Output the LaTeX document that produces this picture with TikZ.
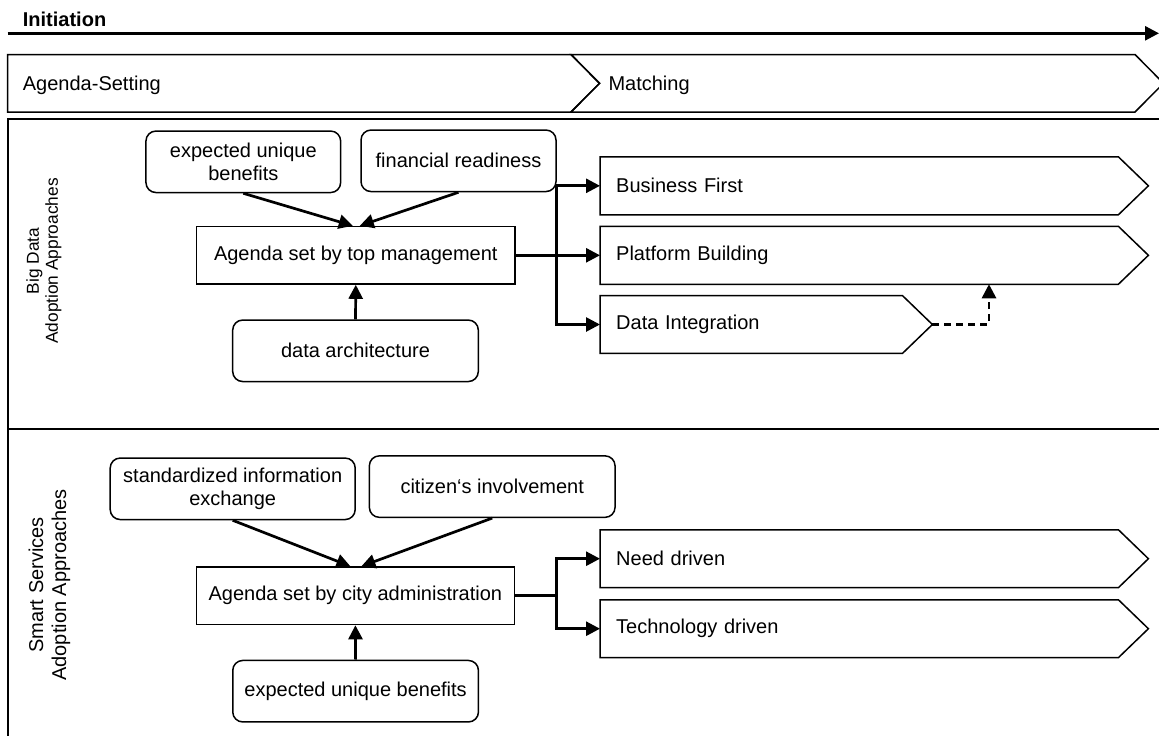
\documentclass[tikz,border=0pt]{standalone}
\usepackage{fontspec}
\setmainfont{Liberation Sans}
\usetikzlibrary{arrows.meta}

\newcommand\dgfont{\fontsize{20}{23}\selectfont}

\begin{document}
\begin{tikzpicture}[x=1pt,y=-1pt,
  font=\dgfont,
  factor/.style={draw, line width=1.5pt, rounded corners=10pt, align=center,
    inner sep=0pt, minimum height=61.5pt},
  agendabox/.style={draw, line width=1.5pt, inner sep=0pt,
    minimum width=318.3pt, minimum height=57.5pt},
  chevbody/.style={inner xsep=16pt, inner ysep=0pt, minimum height=57.5pt, align=left},
  chevline/.style={line width=1.5pt, line join=miter},
  laneline/.style={line width=2pt},
  conn/.style={line width=2.7pt, line join=miter,
    -{Triangle[length=14pt,width=14pt]}},
  optconn/.style={conn, dash pattern=on 7pt off 5pt},
  plain/.style={inner sep=0pt}
]
\useasboundingbox (0,0) rectangle (1159,736);
\clip (0,0) rectangle (1159,736);

% phase axis
\node[plain, anchor=base west, font=\dgfont\bfseries] (init) at (22.7,26.7) {Initiation};
\coordinate (axl) at (7.5,33.3);
\coordinate (axr) at (1159,33.3);
\draw[line width=2.7pt, -{Triangle[length=14pt,width=14pt]}] (axl) -- (axr);

% phases
\draw[chevline] (7.5,54.5) -- (571,54.5) -- (599.5,83.3) -- (571,112) -- (7.5,112) -- cycle;
\draw[chevline] (571,54.5) -- (1135,54.5) -- (1163.5,83.3) -- (1135,112) -- (571,112)
  -- (599.5,83.3) -- cycle;
\node[plain, anchor=base west] (ph1) at (22.7,90) {Agenda-Setting};
\node[plain, anchor=base west] (ph2) at (608.3,90) {Matching};

% swimlanes
\draw[laneline] (7.5,740) -- (7.5,118.5) -- (1165,118.5);
\draw[laneline] (7.5,429.3) -- (1165,429.3);
\node[plain, rotate=90, align=center, font=\fontsize{17.3}{19}\selectfont] (lane1)
  at (44,261) {Big Data\\Adoption Approaches};
\node[plain, rotate=90, align=center] (lane2)
  at (49.5,585) {Smart Services\\Adoption Approaches};

% ---- lane 1: big data
\node[factor, minimum width=194.7pt] (eub) at (243.3,161.8) {expected unique\\benefits};
\node[factor, minimum width=195pt] (fr) at (458.5,160.8) {financial readiness};
\node[agendabox] (ag1) at (355.8,255.3) {Agenda set by top management};
\node[factor, minimum width=245.6pt] (da) at (355.5,350.8) {data architecture};

\draw[conn] (eub.south) -- ([xshift=-3pt]ag1.north);
\draw[conn] (fr.south) -- ([xshift=4pt]ag1.north);
\draw[conn] (da.north) -- (ag1.south);

\node[chevbody, anchor=west, minimum width=518pt, text width=486pt] (bf) at (600,185.8) {Business First};
\node[chevbody, anchor=west, minimum width=518pt, text width=486pt] (pb) at (600,255.3) {Platform Building};
\node[chevbody, anchor=west, minimum width=302pt, text width=270pt] (di) at (600,324.5) {Data Integration};
\foreach \c in {bf,pb,di}{
  \draw[chevline] (\c.north west) -- (\c.north east) -- ([xshift=30pt]\c.east)
    -- (\c.south east) -- (\c.south west) -- cycle;
}

\coordinate (j1) at (556.7,255.3);
\draw[conn] (ag1.east) -- (j1) |- (bf.west);
\draw[conn] (j1) -- (pb.west);
\draw[conn] (j1) |- (di.west);

\coordinate (ditip) at ([xshift=30pt]di.east);
\draw[optconn] (ditip) -| ([xshift=389pt]pb.south west);

% ---- lane 2: smart services
\node[factor, minimum width=245pt] (sie) at (232.7,488.8) {standardized information\\exchange};
\node[factor, minimum width=245.7pt] (ci) at (492.2,486.6) {citizen‘s involvement};
\node[agendabox] (ag2) at (355.4,595.8) {Agenda set by city administration};
\node[factor, minimum width=245.7pt] (eub2) at (355.6,691.2) {expected unique benefits};

\draw[conn] (sie.south) -- ([xshift=-5pt]ag2.north);
\draw[conn] (ci.south) -- ([xshift=6pt]ag2.north);
\draw[conn] (eub2.north) -- (ag2.south);

\node[chevbody, anchor=west, minimum width=518pt, text width=486pt] (nd) at (600,558.7) {Need driven};
\node[chevbody, anchor=west, minimum width=518pt, text width=486pt] (td) at (600,628.7) {Technology driven};
\foreach \c in {nd,td}{
  \draw[chevline] (\c.north west) -- (\c.north east) -- ([xshift=30pt]\c.east)
    -- (\c.south east) -- (\c.south west) -- cycle;
}

\coordinate (j2) at (556.7,595.8);
\draw[line width=2.7pt] (ag2.east) -- (j2);
\draw[conn] (j2) |- (nd.west);
\draw[conn] (j2) |- (td.west);
\end{tikzpicture}
\end{document}
